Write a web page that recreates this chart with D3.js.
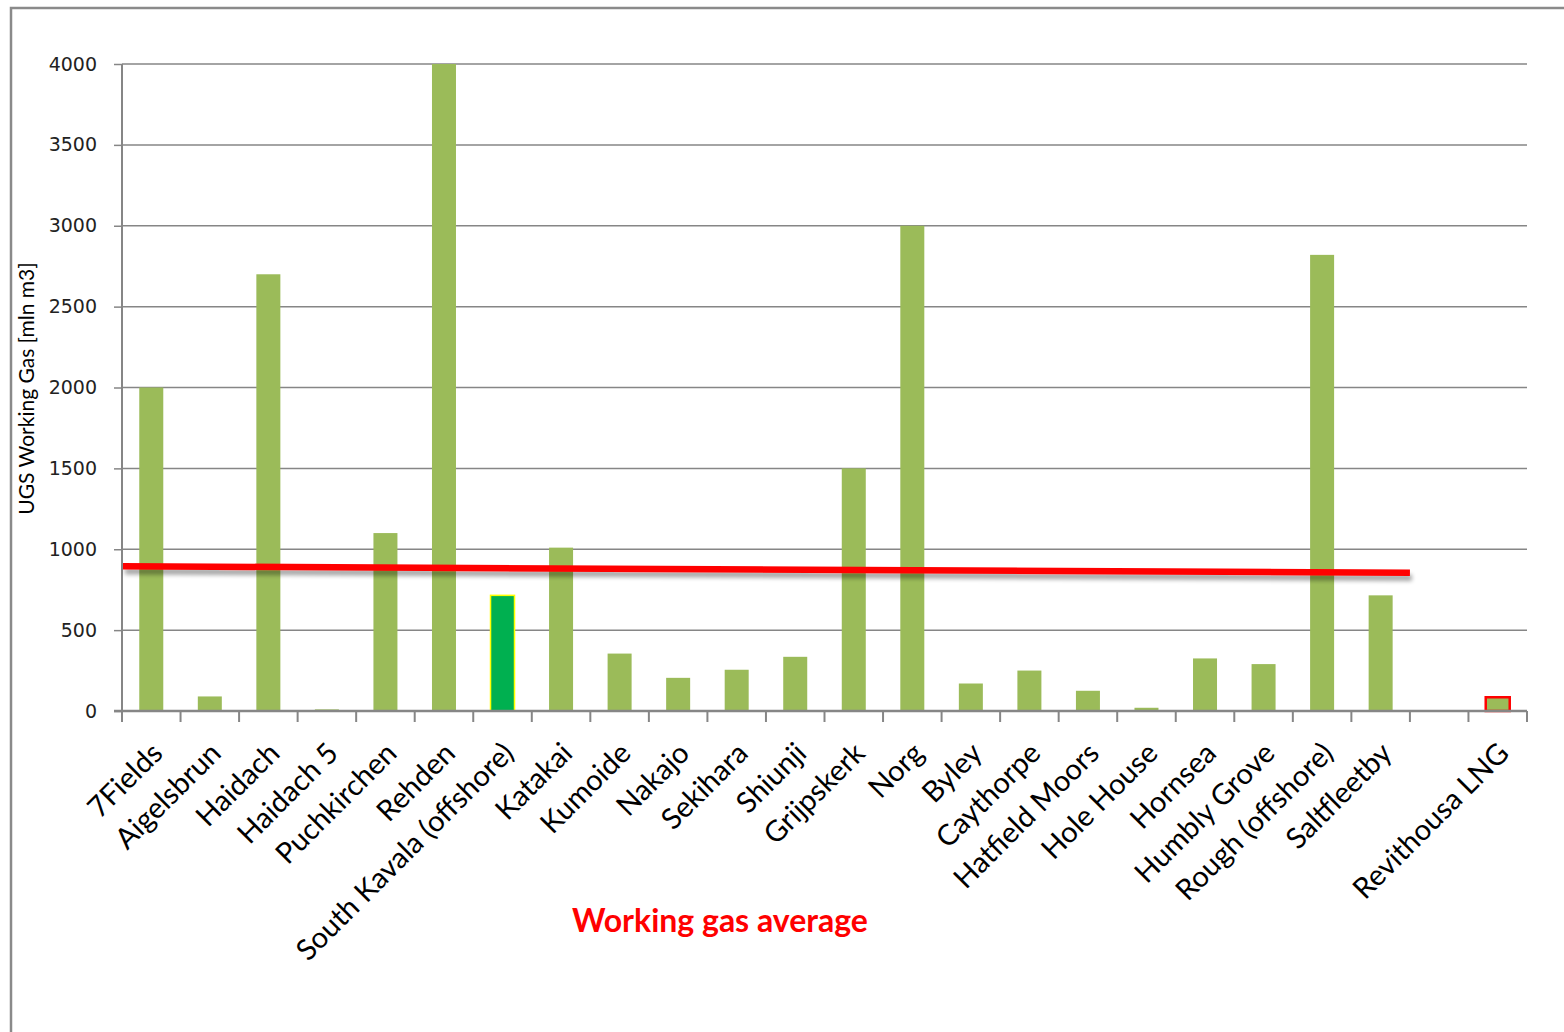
<!DOCTYPE html>
<html>
<head>
<meta charset="utf-8">
<script src="https://cdn.jsdelivr.net/npm/d3@7"></script>
<style>
  html, body { margin: 0; padding: 0; background: #fff; }
  svg { display: block; }
</style>
</head>
<body>
<svg id="chart" width="1564" height="1032"></svg>
<script>
// Underground gas storage sites (blank slot separates the LNG terminal)
const categories = [
  "7Fields", "Aigelsbrun", "Haidach", "Haidach 5", "Puchkirchen", "Rehden",
  "South Kavala (offshore)", "Katakai", "Kumoide", "Nakajo", "Sekihara", "Shiunji",
  "Grijpskerk", "Norg", "Byley", "Caythorpe", "Hatfield Moors", "Hole House",
  "Hornsea", "Humbly Grove", "Rough (offshore)", "Saltfleetby", "", "Revithousa LNG"
];
// Working gas volume, mln m3
const workingGas = [
  2000, 90, 2700, 10, 1100, 4000,
  715, 1010, 355, 205, 255, 335,
  1500, 3000, 170, 250, 125, 20,
  325, 290, 2820, 715, 0, 85
];
// Average line: start and end value, spanning the storage sites
const averageLine = [895, 855];
const averageSpan = ["7Fields", "Saltfleetby"];
const yTicks = [0, 500, 1000, 1500, 2000, 2500, 3000, 3500, 4000];

const svg = d3.select("#chart");
const plotL = 122, plotR = 1527, plotT = 64, plotB = 711;

const x = d3.scaleBand().domain(categories).range([plotL, plotR]).padding(0);
const y = d3.scaleLinear().domain([0, 4000]).range([plotB, plotT]);

// outer chart frame
svg.append("rect")
  .attr("x", 11).attr("y", 8).attr("width", 1600).attr("height", 1100)
  .attr("fill", "none").attr("stroke", "#8a8a8a").attr("stroke-width", 2.5);

// shadow filter for the average line
const defs = svg.append("defs");
const f = defs.append("filter").attr("id", "shadow")
  .attr("x", "-5%").attr("y", "-200%").attr("width", "110%").attr("height", "500%");
f.append("feGaussianBlur").attr("in", "SourceAlpha").attr("stdDeviation", 2).attr("result", "b");
f.append("feOffset").attr("in", "b").attr("dx", 2).attr("dy", 5).attr("result", "o");
f.append("feComponentTransfer").attr("in", "o").attr("result", "s")
  .append("feFuncA").attr("type", "linear").attr("slope", 0.35);
const fm = f.append("feMerge");
fm.append("feMergeNode").attr("in", "s");
fm.append("feMergeNode").attr("in", "SourceGraphic");

// horizontal gridlines
svg.append("g").selectAll("line")
  .data(yTicks.filter(d => d > 0))
  .join("line")
  .attr("x1", plotL).attr("x2", plotR)
  .attr("y1", d => y(d)).attr("y2", d => y(d))
  .attr("stroke", "#868686").attr("stroke-width", 1.5);

// y axis
const yAxis = svg.append("g")
  .attr("transform", `translate(${plotL},0)`)
  .call(d3.axisLeft(y).tickValues(yTicks).tickSize(8).tickPadding(17).tickFormat(d3.format("d")));
yAxis.select(".domain").attr("stroke", "#868686").attr("stroke-width", 2).attr("d", `M0,${plotT}V${plotB}`);
yAxis.selectAll(".tick line").attr("stroke", "#868686").attr("stroke-width", 1.5);
yAxis.selectAll(".tick text")
  .attr("font-family", "DejaVu Sans").attr("font-size", 19).attr("fill", "#222");

// bars
svg.append("g").selectAll("rect")
  .data(categories.map((c, i) => ({ c, v: workingGas[i] })).filter(d => d.v > 0))
  .join("rect")
  .attr("x", d => x(d.c) + x.bandwidth() * 0.295)
  .attr("width", x.bandwidth() * 0.41)
  .attr("y", d => y(d.v))
  .attr("height", d => plotB - y(d.v))
  .attr("fill", d => d.c === "South Kavala (offshore)" ? "#00b050" : "#9bbb59")
  .attr("stroke", d => d.c === "South Kavala (offshore)" ? "#ffff00" : d.c === "Revithousa LNG" ? "#ff0000" : "none")
  .attr("stroke-width", d => d.c === "Revithousa LNG" ? 2.5 : 1.5);

// x axis line and boundary ticks
svg.append("line")
  .attr("x1", plotL - 8).attr("x2", plotR)
  .attr("y1", plotB).attr("y2", plotB)
  .attr("stroke", "#868686").attr("stroke-width", 2.5);
const bounds = categories.map(c => x(c)).concat([plotR]);
svg.append("g").selectAll("line")
  .data(bounds)
  .join("line")
  .attr("x1", d => d).attr("x2", d => d)
  .attr("y1", plotB).attr("y2", plotB + 11)
  .attr("stroke", "#868686").attr("stroke-width", 2);

// category labels, rotated
svg.append("g").selectAll("text")
  .data(categories)
  .join("text")
  .attr("transform", d => `translate(${x(d) + x.bandwidth() / 2 + 13},${plotB + 44}) rotate(-45)`)
  .attr("text-anchor", "end")
  .attr("font-family", "Lato")
  .attr("font-size", 29)
  .attr("fill", "#000")
  .text(d => d);

// average line
const avgX = [x(averageSpan[0]), x(averageSpan[1]) + x.bandwidth()];
svg.append("line")
  .attr("x1", avgX[0] + 1).attr("x2", avgX[1])
  .attr("y1", y(averageLine[0])).attr("y2", y(averageLine[1]))
  .attr("stroke", "#ff0000").attr("stroke-width", 6.5)
  .attr("filter", "url(#shadow)");

// y axis title
svg.append("text")
  .attr("transform", `translate(34,${(plotT + plotB) / 2 + 1}) rotate(-90)`)
  .attr("text-anchor", "middle")
  .attr("font-family", "Lato")
  .attr("font-size", 21)
  .attr("fill", "#000")
  .text("UGS Working Gas [mln m3]");

// legend label for the average line
svg.append("text")
  .attr("x", 720).attr("y", 932)
  .attr("text-anchor", "middle")
  .attr("font-family", "Lato")
  .attr("font-weight", "bold")
  .attr("font-size", 32)
  .attr("fill", "#ff0000")
  .text("Working gas average");
</script>
</body>
</html>
